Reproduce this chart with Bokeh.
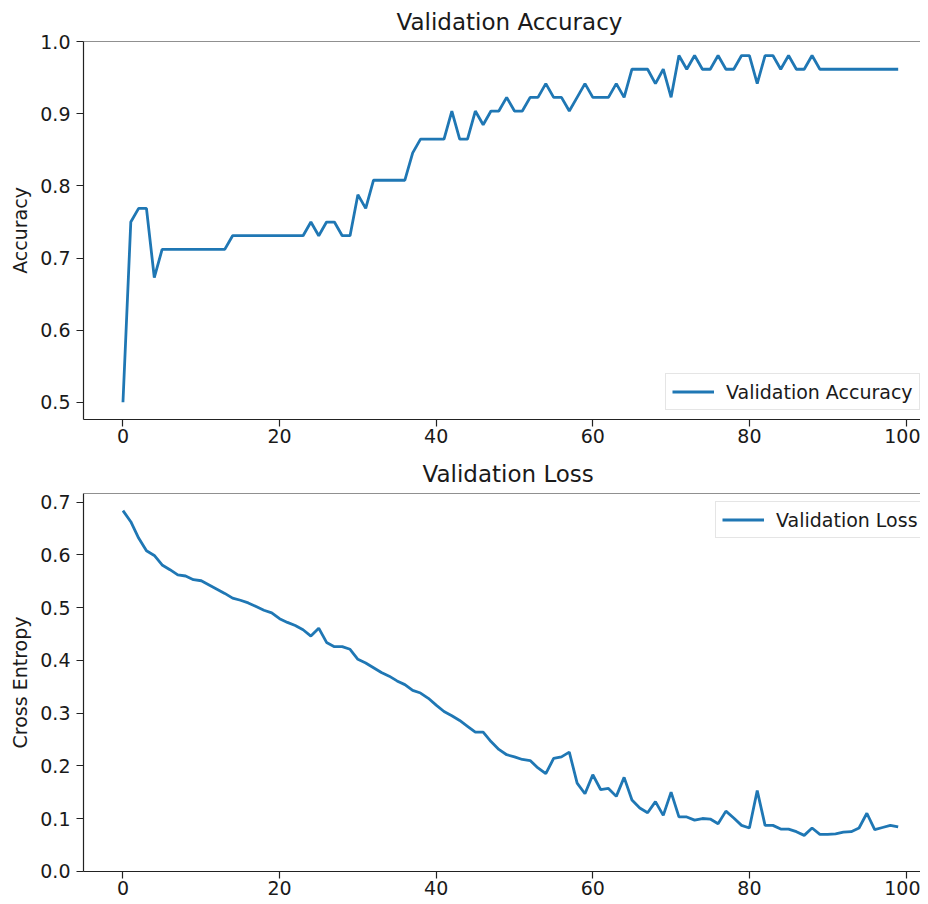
from bokeh.plotting import figure
from bokeh.layouts import column
from bokeh.models import (Range1d, FixedTicker, PrintfTickFormatter, Span,
                          Legend, LegendItem)
from bokeh.embed import file_html
from bokeh.resources import INLINE

epochs = list(range(100))

val_acc = [
    0.500, 0.750, 0.769, 0.769, 0.673, 0.712, 0.712, 0.712, 0.712, 0.712,
    0.712, 0.712, 0.712, 0.712, 0.731, 0.731, 0.731, 0.731, 0.731, 0.731,
    0.731, 0.731, 0.731, 0.731, 0.750, 0.731, 0.750, 0.750, 0.731, 0.731,
    0.788, 0.769, 0.808, 0.808, 0.808, 0.808, 0.808, 0.846, 0.865, 0.865,
    0.865, 0.865, 0.904, 0.865, 0.865, 0.904, 0.885, 0.904, 0.904, 0.923,
    0.904, 0.904, 0.923, 0.923, 0.942, 0.923, 0.923, 0.904, 0.923, 0.942,
    0.923, 0.923, 0.923, 0.942, 0.923, 0.962, 0.962, 0.962, 0.942, 0.962,
    0.923, 0.981, 0.962, 0.981, 0.962, 0.962, 0.981, 0.962, 0.962, 0.981,
    0.981, 0.942, 0.981, 0.981, 0.962, 0.981, 0.962, 0.962, 0.981, 0.962,
    0.962, 0.962, 0.962, 0.962, 0.962, 0.962, 0.962, 0.962, 0.962, 0.962,
]

val_loss = [
    0.684, 0.663, 0.632, 0.608, 0.599, 0.581, 0.572, 0.562, 0.560, 0.553,
    0.551, 0.543, 0.535, 0.527, 0.518, 0.514, 0.509, 0.502, 0.495, 0.490,
    0.479, 0.472, 0.466, 0.458, 0.446, 0.461, 0.434, 0.426, 0.426, 0.421,
    0.402, 0.395, 0.386, 0.377, 0.370, 0.361, 0.354, 0.343, 0.338, 0.328,
    0.315, 0.303, 0.295, 0.286, 0.275, 0.264, 0.264, 0.246, 0.231, 0.221,
    0.217, 0.212, 0.210, 0.196, 0.185, 0.214, 0.217, 0.226, 0.167, 0.147,
    0.183, 0.155, 0.157, 0.142, 0.178, 0.135, 0.120, 0.111, 0.132, 0.106,
    0.150, 0.103, 0.103, 0.097, 0.100, 0.099, 0.090, 0.114, 0.101, 0.087,
    0.082, 0.153, 0.087, 0.087, 0.080, 0.080, 0.075, 0.068, 0.082, 0.070,
    0.070, 0.071, 0.074, 0.075, 0.082, 0.110, 0.079, 0.083, 0.087, 0.084,
]

x_ticks = [0, 20, 40, 60, 80, 100]
acc_ticks = [0.5, 0.6, 0.7, 0.8, 0.9, 1.0]
loss_ticks = [0.0, 0.1, 0.2, 0.3, 0.4, 0.5, 0.6, 0.7]

FONT = "DejaVu Sans"
TXT = "#1a1a1a"
LINE = "#1f77b4"
SPINE = "#222222"


def make_fig(title, title_offset, ylabel, yr, yticks, frame_h, top_border,
             bottom_border):
    p = figure(output_backend="svg", toolbar_location=None,
               frame_width=837, frame_height=frame_h,
               min_border_left=83, min_border_right=0,
               min_border_top=top_border, min_border_bottom=bottom_border,
               x_range=Range1d(-5.04, 101.85), y_range=Range1d(*yr),
               background_fill_color="white", border_fill_color="white",
               outline_line_color=None)
    p.title.text = title
    p.title.align = "left"
    p.title.offset = title_offset
    p.title.text_font = FONT
    p.title.text_font_size = "23px"
    p.title.text_font_style = "normal"
    p.title.text_color = TXT
    p.title.standoff = 13
    p.grid.visible = False
    for ax in (p.xaxis[0], p.yaxis[0]):
        ax.axis_line_color = SPINE
        ax.axis_line_width = 1.2
        ax.major_tick_line_color = SPINE
        ax.major_tick_line_width = 1.2
        ax.major_tick_out = 7
        ax.major_tick_in = 0
        ax.minor_tick_line_color = None
        ax.major_label_text_font = FONT
        ax.major_label_text_font_size = "19px"
        ax.major_label_text_color = TXT
    p.xaxis.ticker = FixedTicker(ticks=x_ticks)
    p.xaxis.formatter = PrintfTickFormatter(format="%d")
    p.xaxis.major_label_standoff = 2
    p.yaxis.ticker = FixedTicker(ticks=yticks)
    p.yaxis.formatter = PrintfTickFormatter(format="%.1f")
    p.yaxis.major_label_standoff = 6
    p.yaxis.axis_label = ylabel
    p.yaxis.axis_label_text_font = FONT
    p.yaxis.axis_label_text_font_size = "19px"
    p.yaxis.axis_label_text_font_style = "normal"
    p.yaxis.axis_label_text_color = TXT
    p.yaxis.axis_label_standoff = 6
    p.add_layout(Span(location=yr[1], dimension="width",
                      line_color=SPINE, line_width=1.2))
    return p


p1 = make_fig("Validation Accuracy", 313, "Accuracy", (0.476, 1.0005),
              acc_ticks, 378, 40, 31)
r1 = p1.line(epochs, val_acc, line_color=LINE, line_width=2.8)

p2 = make_fig("Validation Loss", 339, "Cross Entropy", (-0.0005, 0.7165),
              loss_ticks, 378, 43, 31)
r2 = p2.line(epochs, val_loss, line_color=LINE, line_width=2.8)


def add_legend(p, label, renderer, loc):
    leg = Legend(items=[LegendItem(label=label, renderers=[renderer])],
                 location=loc, padding=6, spacing=0, margin=0,
                 glyph_width=42, glyph_height=23, label_height=23,
                 label_standoff=12, label_text_font=FONT,
                 label_text_font_size="19px", label_text_color=TXT,
                 border_line_color="#cccccc", border_line_width=1,
                 background_fill_alpha=0.8)
    p.add_layout(leg)


add_legend(p1, "Validation Accuracy", r1, (582, 9))
add_legend(p2, "Validation Loss", r2, (632, 333))

layout = column(p1, p2, spacing=0)

open("out.html", "w").write(file_html(layout, INLINE))
